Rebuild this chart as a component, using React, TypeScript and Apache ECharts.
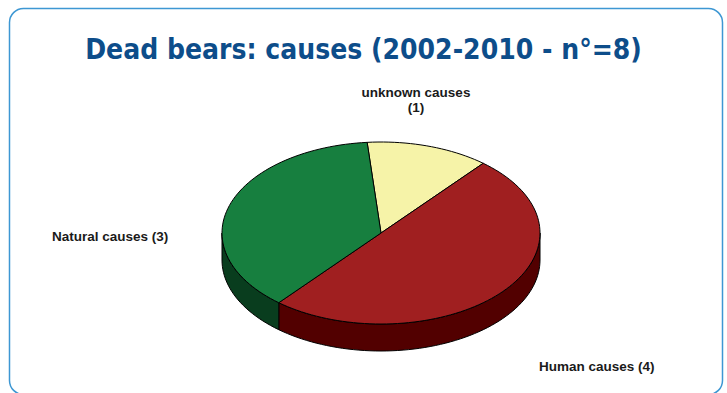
import React, { useEffect, useRef } from "react";
import * as echarts from "echarts";

const categories = ["unknown causes", "Human causes", "Natural causes"];
const values = [1, 4, 3];
const topColors = ["#f6f3a8", "#a01f20", "#177f3f"];
const wallColors = ["#c9c67f", "#520000", "#093d1e"];
const titleText = "Dead bears: causes (2002-2010 - n°=8)";

const CX = 381;
const CY = 233;
const RX = 159;
const RY = 91;
const DEPTH = 27;
const START = 95; // degrees, clockwise

const total = values.reduce((a, b) => a + b, 0);
const deg = Math.PI / 180;

function sliceRange(idx: number): [number, number] {
  let before = 0;
  for (let i = 0; i < idx; i++) before += values[i];
  const hi = START - (before / total) * 360;
  const lo = hi - (values[idx] / total) * 360;
  return [lo, hi];
}

function pt(t: number, dy = 0): number[] {
  return [CX + RX * Math.cos(t * deg), CY - RY * Math.sin(t * deg) + dy];
}

function arcPts(from: number, to: number, dy = 0): number[][] {
  const n = Math.max(2, Math.ceil(Math.abs(to - from) / 2));
  const out: number[][] = [];
  for (let i = 0; i <= n; i++) out.push(pt(from + ((to - from) * i) / n, dy));
  return out;
}

const labelStyle = {
  fontFamily: "Liberation Sans, Arial, sans-serif",
  fontWeight: "bold",
  fontSize: 13.5,
  fill: "#1a1a1a",
};

export default function App() {
  const ref = useRef<HTMLDivElement>(null);
  useEffect(() => {
    const chart = echarts.init(ref.current!, null, { renderer: "svg" });
    const data = values.map((v, i) => ({ name: categories[i], value: v }));
    chart.setOption({
      animation: false,
      backgroundColor: "#ffffff",
      title: {
        text: titleText,
        left: "center",
        top: 30,
        textStyle: {
          fontFamily: "DejaVu Sans Condensed, Liberation Sans Narrow, sans-serif",
          fontWeight: "bold",
          fontSize: 28,
          color: "#0d4d8a",
        },
      },
      graphic: [
        {
          type: "rect",
          shape: { x: 9.5, y: 8.5, width: 713, height: 386, r: 14 },
          style: { fill: "none", stroke: "#3d97d3", lineWidth: 1.5 },
          z: 0,
        },
        {
          type: "text",
          x: 416,
          y: 85,
          style: {
            ...labelStyle,
            text: categories[0] + "\n(" + values[0] + ")",
            align: "center",
            lineHeight: 15,
          },
        },
        {
          type: "text",
          x: 52,
          y: 229,
          style: {
            ...labelStyle,
            text: categories[2] + " (" + values[2] + ")",
          },
        },
        {
          type: "text",
          x: 539,
          y: 359,
          style: {
            ...labelStyle,
            text: categories[1] + " (" + values[1] + ")",
          },
        },
      ],
      series: [
        {
          type: "custom",
          coordinateSystem: "none",
          z: 2,
          data,
          renderItem: (params: any) => {
            const [lo, hi] = sliceRange(params.dataIndex);
            const children: any[] = [];
            for (let k = -2; k <= 1; k++) {
              const a = -180 + 360 * k;
              const b = 360 * k;
              const s = Math.max(lo, a);
              const e = Math.min(hi, b);
              if (e > s) {
                const top = arcPts(s, e, 0);
                const bottom = arcPts(e, s, DEPTH);
                children.push({
                  type: "polygon",
                  shape: { points: top.concat(bottom) },
                  style: {
                    fill: wallColors[params.dataIndex],
                    stroke: "#000",
                    lineWidth: 1,
                    lineJoin: "round",
                  },
                });
              }
            }
            return { type: "group", children };
          },
        },
        {
          type: "custom",
          coordinateSystem: "none",
          z: 3,
          data,
          renderItem: (params: any) => {
            const [lo, hi] = sliceRange(params.dataIndex);
            const points = [[CX, CY]].concat(arcPts(hi, lo, 0));
            return {
              type: "polygon",
              shape: { points },
              style: {
                fill: topColors[params.dataIndex],
                stroke: "#000",
                lineWidth: 1,
                lineJoin: "round",
              },
            };
          },
        },
      ],
    });
    return () => chart.dispose();
  }, []);
  return (
    <div
      ref={ref}
      style={{ position: "fixed", left: 0, top: 0, width: 727, height: 393 }}
    />
  );
}
